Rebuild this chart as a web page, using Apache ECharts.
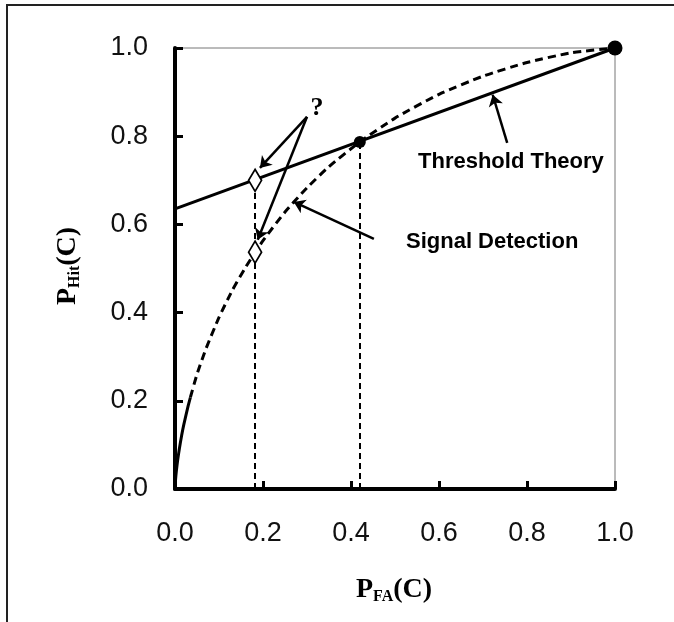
<!DOCTYPE html>
<html>
<head>
<meta charset="utf-8">
<script src="https://cdn.jsdelivr.net/npm/echarts@6/dist/echarts.min.js"></script>
<style>
html,body{margin:0;padding:0;background:#fff;}
#c{width:674px;height:622px;}
</style>
</head>
<body>
<div id="c"></div>
<script>
// ---- data ----
const xTicks = [0, 0.2, 0.4, 0.6, 0.8, 1.0];
const yTicks = [0, 0.2, 0.4, 0.6, 0.8, 1.0];

// Threshold theory line (solid)
const thresholdX = [0, 1];
const thresholdY = [0.635, 1];

// Signal detection ROC (solid near origin, dashed after)
const sdtSolidX = [0, 0.001, 0.003, 0.006, 0.01, 0.015, 0.02, 0.03, 0.035];
const sdtSolidY = [0, 0.018, 0.040, 0.065, 0.092, 0.121, 0.146, 0.189, 0.208];
const sdtDashX = [0.035, 0.05, 0.07, 0.10, 0.13, 0.16, 0.20, 0.25, 0.30, 0.35, 0.42, 0.50, 0.60, 0.70, 0.80, 0.90, 1.0];
const sdtDashY = [0.208, 0.260, 0.317, 0.389, 0.450, 0.502, 0.563, 0.628, 0.683, 0.731, 0.787, 0.841, 0.895, 0.936, 0.967, 0.989, 1.0];

// Filled points
const dotX = [0.42, 1.0];
const dotY = [0.787, 1.0];
const dotSize = [12, 15];

// Hollow diamonds (at P_FA = 0.182)
const diamondX = [0.182, 0.182];
const diamondY = [0.700, 0.537];

// Vertical dashed drop lines
const dropX = [0.182, 0.42];
const dropTop = [0.700, 0.787];

// Annotation arrows [x1, y1, x2, y2] in data units
const arrowQ1 = [0.300, 0.844, 0.193, 0.728];
const arrowQ2 = [0.300, 0.844, 0.188, 0.565];
const arrowThreshold = [0.755, 0.785, 0.722, 0.894];
const arrowSignal = [0.452, 0.567, 0.270, 0.651];

const zip = (xs, ys) => xs.map((x, i) => [x, ys[i]]);

const chart = echarts.init(document.getElementById('c'), null, {renderer: 'canvas'});

const arrowData = [arrowQ1, arrowQ2, arrowThreshold, arrowSignal].map(a => ({coords: [[a[0], a[1]], [a[2], a[3]]]}));
const dropData = dropX.map((x, i) => ({coords: [[x, 0], [x, dropTop[i]]]}));

const sansFont = '"Liberation Sans", Arial, sans-serif';
const serifFont = '"Liberation Serif", "Times New Roman", serif';

const option = {
  backgroundColor: '#fff',
  animation: false,
  grid: {
    left: 175, top: 48, width: 440, height: 441,
    show: true, borderColor: '#777', borderWidth: 1, backgroundColor: 'transparent'
  },
  xAxis: {
    type: 'value', min: 0, max: 1, interval: 0.2,
    axisLine: {show: true, onZero: false, lineStyle: {color: '#000', width: 4}},
    axisTick: {show: true, inside: true, length: 8, lineStyle: {color: '#000', width: 3}},
    axisLabel: {margin: 31, color: '#111', fontSize: 27, fontFamily: sansFont,
      formatter: v => v.toFixed(1)},
    splitLine: {show: false}
  },
  yAxis: {
    type: 'value', min: 0, max: 1, interval: 0.2,
    axisLine: {show: true, onZero: false, lineStyle: {color: '#000', width: 4}},
    axisTick: {show: true, inside: true, length: 8, lineStyle: {color: '#000', width: 3}},
    axisLabel: {margin: 27, color: '#111', fontSize: 27, fontFamily: sansFont,
      formatter: v => v.toFixed(1)},
    splitLine: {show: false}
  },
  series: [
    {
      type: 'lines', coordinateSystem: 'cartesian2d', silent: true, z: 2,
      data: dropData, symbol: ['none', 'none'],
      lineStyle: {color: '#000', width: 2, type: [6, 4], opacity: 1}
    },
    {
      type: 'line', data: zip(thresholdX, thresholdY), showSymbol: false, z: 3,
      lineStyle: {color: '#000', width: 3}
    },
    {
      type: 'line', data: zip(sdtSolidX, sdtSolidY), showSymbol: false, smooth: 0.2, z: 3,
      lineStyle: {color: '#000', width: 3}
    },
    {
      type: 'line', data: zip(sdtDashX, sdtDashY), showSymbol: false, smooth: 0.2, z: 3,
      lineStyle: {color: '#000', width: 3, type: [8, 5]}
    },
    {
      type: 'lines', coordinateSystem: 'cartesian2d', silent: true, z: 4,
      data: arrowData, symbol: ['none', 'arrow'], symbolSize: 11,
      lineStyle: {color: '#000', width: 2.5, opacity: 1}
    },
    {
      type: 'scatter', z: 5,
      data: zip(diamondX, diamondY), symbol: 'diamond', symbolSize: [13, 22],
      itemStyle: {color: '#fff', borderColor: '#000', borderWidth: 1.8, opacity: 1}
    },
    {
      type: 'scatter', z: 5,
      data: dotX.map((x, i) => ({value: [x, dotY[i]], symbolSize: dotSize[i]})),
      symbol: 'circle',
      itemStyle: {color: '#000', opacity: 1}
    }
  ],
  graphic: [
    {
      type: 'rect', z: 0, silent: true,
      shape: {x: 7, y: 5, width: 720, height: 700},
      style: {fill: 'transparent', stroke: '#222', lineWidth: 2}
    },
    {
      type: 'text', x: 418, y: 162, silent: true,
      style: {text: 'Threshold Theory', fill: '#000', font: 'bold 22px ' + sansFont,
        textAlign: 'left', textVerticalAlign: 'middle'}
    },
    {
      type: 'text', x: 406, y: 242, silent: true,
      style: {text: 'Signal Detection', fill: '#000', font: 'bold 22px ' + sansFont,
        textAlign: 'left', textVerticalAlign: 'middle'}
    },
    {
      type: 'text', x: 317, y: 108, silent: true,
      style: {text: '?', fill: '#000', font: 'bold 26px ' + serifFont,
        textAlign: 'center', textVerticalAlign: 'middle'}
    },
    {
      type: 'text', x: 394, y: 590, silent: true,
      style: {
        text: '{p|P}{s|FA}{p|(C)}',
        textAlign: 'center', textVerticalAlign: 'middle',
        rich: {
          p: {fontSize: 28, fontWeight: 'bold', fontFamily: serifFont, color: '#000', lineHeight: 30},
          s: {fontSize: 16, fontWeight: 'bold', fontFamily: serifFont, color: '#000', lineHeight: 14, verticalAlign: 'bottom'}
        }
      }
    },
    {
      type: 'text', x: 68, y: 266, rotation: Math.PI / 2, silent: true,
      style: {
        text: '{p|P}{s|Hit}{p|(C)}',
        textAlign: 'center', textVerticalAlign: 'middle',
        rich: {
          p: {fontSize: 28, fontWeight: 'bold', fontFamily: serifFont, color: '#000', lineHeight: 30},
          s: {fontSize: 16, fontWeight: 'bold', fontFamily: serifFont, color: '#000', lineHeight: 14, verticalAlign: 'bottom'}
        }
      }
    }
  ]
};
chart.setOption(option);
</script>
</body>
</html>
